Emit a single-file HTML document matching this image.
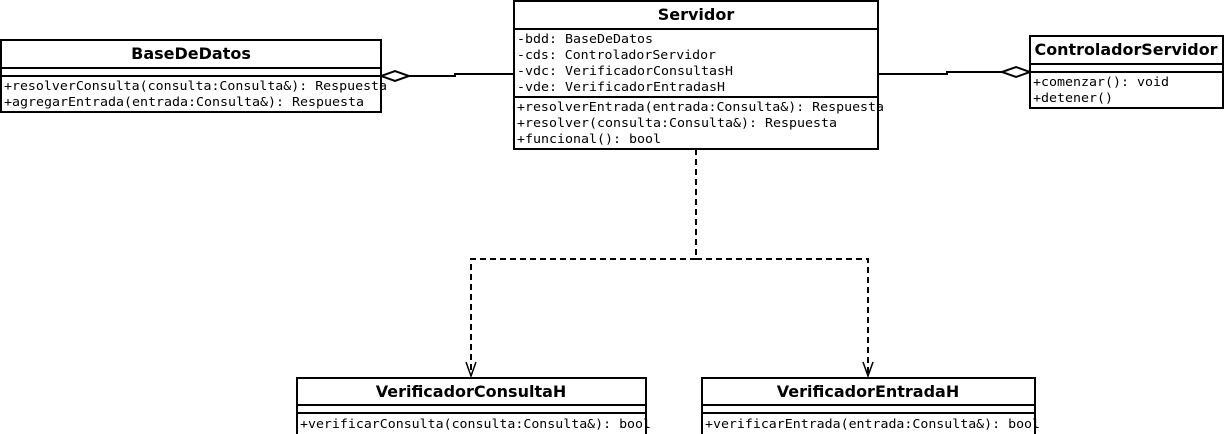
<!DOCTYPE html>
<html><head><style>body{margin:0;background:#fff}svg{display:block}</style></head><body>
<svg width="1224" height="434" viewBox="0 0 1224 434" xmlns="http://www.w3.org/2000/svg">
<g fill="#fff" stroke="#000" stroke-width="2">
<rect x="1" y="40" width="380" height="72"/><line x1="1" y1="68" x2="381" y2="68"/><line x1="1" y1="76" x2="381" y2="76"/>
<rect x="514" y="1" width="364" height="148"/><line x1="514" y1="29" x2="878" y2="29"/><line x1="514" y1="97" x2="878" y2="97"/>
<rect x="1030" y="36" width="193" height="72"/><line x1="1030" y1="64" x2="1223" y2="64"/><line x1="1030" y1="72" x2="1223" y2="72"/>
<rect x="297" y="378" width="349" height="60"/><line x1="297" y1="405" x2="646" y2="405"/><line x1="297" y1="413" x2="646" y2="413"/>
<rect x="702" y="378" width="333" height="60"/><line x1="702" y1="405" x2="1035" y2="405"/><line x1="702" y1="413" x2="1035" y2="413"/>
</g>
<g fill="none" stroke="#000" stroke-width="2">
<polyline points="514,74 455,74 455,76 409,76"/>
<polygon points="381,76 395,71 409,76 395,81" fill="#fff"/>
<polyline points="878,74 947,74 947,72 1002,72"/>
<polygon points="1002,72 1016,67 1030,72 1016,77" fill="#fff"/>
<polyline points="696,149 696,259 471,259 471,376" stroke-dasharray="6,4"/>
<polyline points="696,259 868,259 868,376" stroke-dasharray="6,4"/>
<polyline points="466,362 471,376 476,362" stroke-width="1.5"/>
<polyline points="863,362 868,376 873,362" stroke-width="1.5"/>
</g>
<g font-family="DejaVu Sans, Liberation Sans, sans-serif" font-weight="bold" font-size="16" text-anchor="middle">
<text x="191" y="59">BaseDeDatos</text>
<text x="696" y="20">Servidor</text>
<text x="1126" y="55" textLength="183" lengthAdjust="spacingAndGlyphs">ControladorServidor</text>
<text x="471" y="397">VerificadorConsultaH</text>
<text x="868" y="397">VerificadorEntradaH</text>
</g>
<g font-family="DejaVu Sans Mono, Liberation Mono, monospace" font-size="12">
<text x="4" y="90" textLength="383" lengthAdjust="spacingAndGlyphs">+resolverConsulta(consulta:Consulta&amp;): Respuesta</text>
<text x="4" y="106" textLength="360" lengthAdjust="spacingAndGlyphs">+agregarEntrada(entrada:Consulta&amp;): Respuesta</text>
<text x="517" y="43" textLength="136" lengthAdjust="spacingAndGlyphs">-bdd: BaseDeDatos</text>
<text x="517" y="59" textLength="199" lengthAdjust="spacingAndGlyphs">-cds: ControladorServidor</text>
<text x="517" y="75" textLength="216" lengthAdjust="spacingAndGlyphs">-vdc: VerificadorConsultasH</text>
<text x="517" y="91" textLength="208" lengthAdjust="spacingAndGlyphs">-vde: VerificadorEntradasH</text>
<text x="517" y="111" textLength="367" lengthAdjust="spacingAndGlyphs">+resolverEntrada(entrada:Consulta&amp;): Respuesta</text>
<text x="517" y="127" textLength="320" lengthAdjust="spacingAndGlyphs">+resolver(consulta:Consulta&amp;): Respuesta</text>
<text x="517" y="143" textLength="144" lengthAdjust="spacingAndGlyphs">+funcional(): bool</text>
<text x="1033" y="86" textLength="136" lengthAdjust="spacingAndGlyphs">+comenzar(): void</text>
<text x="1033" y="102" textLength="80" lengthAdjust="spacingAndGlyphs">+detener()</text>
<text x="300" y="428" textLength="351" lengthAdjust="spacingAndGlyphs">+verificarConsulta(consulta:Consulta&amp;): bool</text>
<text x="705" y="428" textLength="335" lengthAdjust="spacingAndGlyphs">+verificarEntrada(entrada:Consulta&amp;): bool</text>
</g>
</svg>
</body></html>
